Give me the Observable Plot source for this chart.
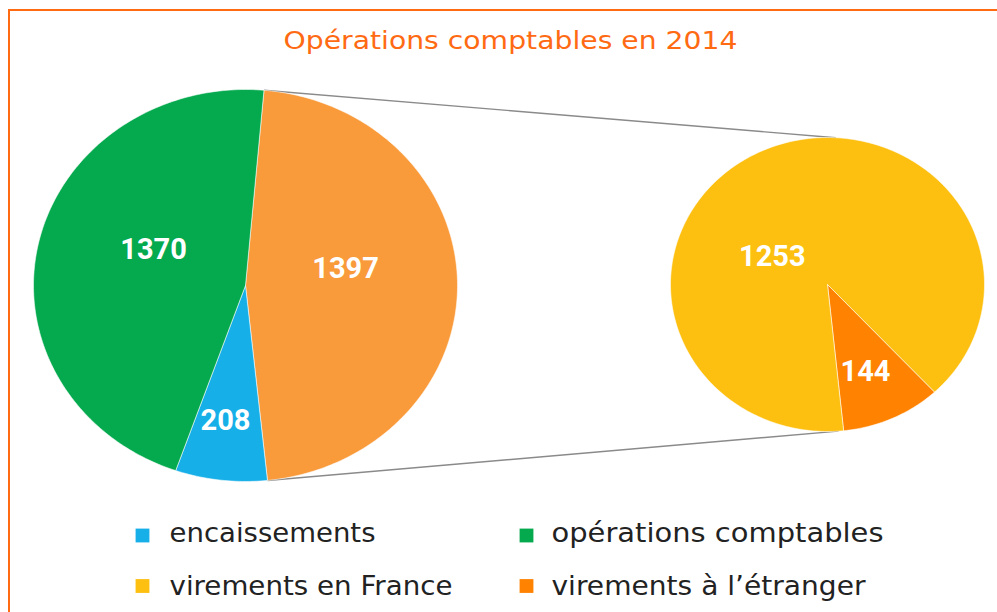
<!DOCTYPE html>
<html><head><meta charset="utf-8">
<script src="https://cdn.jsdelivr.net/npm/d3@7"></script>
<script src="https://cdn.jsdelivr.net/npm/@observablehq/plot@0.6"></script>
<style>
body{margin:0;background:#fff;}
#wrap{position:relative;width:997px;height:612px;overflow:hidden;background:#fff;}
#border{position:absolute;left:8px;top:9px;width:1100px;height:700px;border-left:2px solid #FF6A13;border-top:2px solid #FF6A13;pointer-events:none;}
</style></head><body><div id="wrap"><div id="border"></div></div>
<script>
// ---- data ----
const title = "Opérations comptables en 2014";
const mainCategories = ["virements", "encaissements", "opérations comptables"];
const mainValues = [1397, 208, 1370];
const subCategories = ["virements à l’étranger", "virements en France"];
const subValues = [144, 1253];
const legendLabels = ["encaissements", "opérations comptables", "virements en France", "virements à l’étranger"];

// ---- styles / layout ----
const colorDomain = ["virements", "encaissements", "opérations comptables", "virements à l’étranger", "virements en France"];
const colorRange = ["#F99A3B", "#17AFE8", "#05A94E", "#FF8200", "#FDBF10"];
const mainGeom = {cx: 245, cy: 285, rx: 212, ry: 196, start: 5};
const subGeom = {cx: 827, cy: 284, rx: 157, ry: 147, start: 137};
const mainLabelPos = [{a: 79.6, f: 0.48}, {a: 187.8, f: 0.695}, {a: 293, f: 0.471}];
const subLabelPos = [{a: 157.8, f: 0.64}, {a: 298.5, f: 0.40}];
const subLinkAngles = [3, 176];
const legendLayout = {colX: [142, 526], rowBase: [541, 594], squareY: [535, 585.5], textDx: [27, 25], size: 27,
  widths: [206, 332, 283, 314]};
const titleLayout = {x: 510, base: 48, size: 25, width: 454};

function pt(g, ang, f = 1) {
  const t = ang * Math.PI / 180;
  return {x: g.cx + g.rx * f * Math.sin(t), y: g.cy - g.ry * f * Math.cos(t)};
}
function slices(cats, vals, g) {
  const total = d3.sum(vals);
  let a = g.start;
  return vals.map((v, i) => {
    const a0 = a, a1 = a + v / total * 360; a = a1;
    return {cat: cats[i], value: v, a0, a1};
  });
}
function polygons(sl, g) {
  const pts = [];
  sl.forEach(s => {
    const c = pt(g, 0, 0);
    pts.push({cat: s.cat, x: c.x, y: c.y});
    const n = Math.max(2, Math.ceil(s.a1 - s.a0));
    for (let k = 0; k <= n; k++) {
      const p = pt(g, s.a0 + (s.a1 - s.a0) * k / n);
      pts.push({cat: s.cat, x: p.x, y: p.y});
    }
    pts.push({cat: s.cat, x: c.x, y: c.y});
  });
  return pts;
}

const mainSlices = slices(mainCategories, mainValues, mainGeom);
const subSlices = slices(subCategories, subValues, subGeom);
const polys = polygons(mainSlices, mainGeom).concat(polygons(subSlices, subGeom));

const split = mainSlices[0];
const links = [
  {p1: pt(mainGeom, split.a0), p2: pt(subGeom, subLinkAngles[0])},
  {p1: pt(mainGeom, split.a1), p2: pt(subGeom, subLinkAngles[1])}
];

const labels = mainSlices.map((s, i) => ({text: String(s.value), ...pt(mainGeom, mainLabelPos[i].a, mainLabelPos[i].f)}))
  .concat(subSlices.map((s, i) => ({text: String(s.value), ...pt(subGeom, subLabelPos[i].a, subLabelPos[i].f)})));

const legend = legendLabels.map((l, i) => ({label: l, col: i % 2, row: Math.floor(i / 2)}));

const chart = Plot.plot({
  width: 997, height: 612, margin: 0,
  style: {background: "transparent"},
  x: {domain: [0, 997], range: [0, 997], axis: null},
  y: {domain: [0, 612], range: [0, 612], axis: null},
  color: {domain: colorDomain, range: colorRange},
  marks: [
    Plot.link(links, {x1: d => d.p1.x, y1: d => d.p1.y, x2: d => d.p2.x, y2: d => d.p2.y, stroke: "#8a8a8a", strokeWidth: 1.4}),
    Plot.line(polys, {x: "x", y: "y", z: "cat", fill: "cat", stroke: "white", strokeWidth: 0.8, strokeOpacity: 0.7, curve: "linear"}),
    Plot.text(labels, {x: "x", y: "y", text: "text", fill: "white", fontSize: 29, fontWeight: "bold", fontFamily: "Roboto", textAnchor: "middle"}),
    Plot.text([title], {x: () => titleLayout.x, y: () => titleLayout.base - 0.32 * titleLayout.size, text: d => d,
      fill: "#FF6A13", fontSize: titleLayout.size, fontFamily: "DejaVu Sans", textAnchor: "middle", className: "ttl"}),
    Plot.dot(legend, {x: d => legendLayout.colX[d.col], y: d => legendLayout.squareY[d.row], fill: "label", symbol: "square", r: 7.8}),
    Plot.text(legend, {x: d => legendLayout.colX[d.col] + legendLayout.textDx[d.col], y: d => legendLayout.rowBase[d.row] - 0.32 * legendLayout.size,
      text: "label", fill: "#222", fontSize: legendLayout.size, fontFamily: "DejaVu Sans", textAnchor: "start", className: "leg"})
  ]
});
document.getElementById("wrap").appendChild(chart);
d3.select(chart).selectAll(".leg text").attr("textLength", (d, i) => legendLayout.widths[i]).attr("lengthAdjust", "spacingAndGlyphs");
d3.select(chart).selectAll(".ttl text").attr("textLength", titleLayout.width).attr("lengthAdjust", "spacingAndGlyphs");
</script></body></html>
